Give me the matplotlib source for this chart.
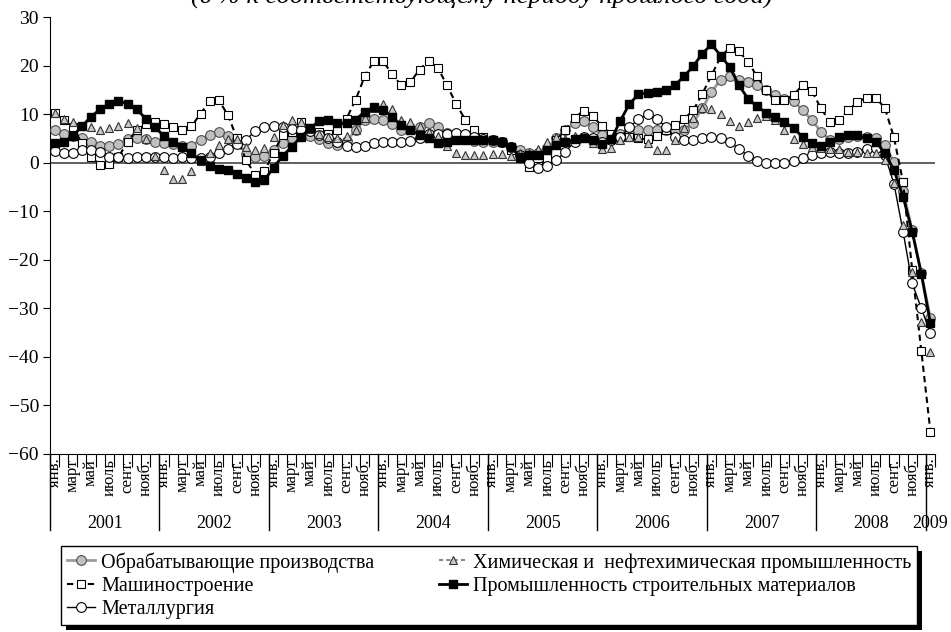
import numpy as np
import matplotlib
matplotlib.use('Agg')
import matplotlib.pyplot as plt
from matplotlib.lines import Line2D
from matplotlib.patches import Rectangle
from matplotlib.transforms import IdentityTransform

plt.rcParams['font.family'] = ['Liberation Serif', 'DejaVu Serif']

years = ['2001', '2002', '2003', '2004', '2005', '2006', '2007', '2008', '2009']
month_names = ['янв.', '', 'март', '', 'май', '', 'июль', '', 'сент.', '', 'нояб.', '']

# monthly values, Jan 2001 .. Jan 2009 (97 points)
obrab = [6.7, 6.0, 5.5, 5.1, 4.3, 3.5, 3.4, 3.8, 4.8, 5.0, 4.9, 4.3,
         4.0, 3.8, 3.4, 3.4, 4.7, 5.8, 6.3, 5.5, 4.7, 1.8, 1.1, 1.4,
         2.6, 4.1, 5.0, 5.6, 5.5, 4.8, 4.0, 3.6, 4.5, 6.7, 8.8, 9.1,
         8.9, 7.9, 6.8, 7.1, 7.4, 8.1, 7.3, 6.2, 5.5, 5.0, 4.5, 4.3,
         4.3, 4.3, 3.3, 2.6, 1.9, 2.0, 3.0, 5.0, 6.8, 8.1, 8.7, 7.3,
         5.7, 5.0, 6.0, 6.7, 6.8, 6.7, 6.7, 6.8, 6.6, 6.8, 8.2, 11.2,
         14.6, 17.1, 17.8, 17.1, 16.6, 16.0, 14.9, 14.0, 13.2, 12.7, 10.8, 8.8,
         6.4, 4.7, 4.8, 5.3, 5.5, 5.3, 5.0, 3.6, 0.2, -5.8, -13.9, -22.8,
         -32.1]
mash = [10.3, 8.9, 7.3, 4.0, 1.2, -0.5, -0.3, 1.2, 4.2, 6.8, 7.9, 8.4,
        7.9, 7.3, 6.8, 7.5, 10.1, 12.7, 12.9, 9.8, 5.0, 0.5, -2.5, -1.8,
        2.1, 5.7, 6.4, 8.4, 7.2, 6.3, 6.0, 6.7, 9.1, 13.0, 17.8, 21.0,
        21.0, 18.2, 16.0, 16.6, 19.2, 21.0, 19.6, 16.0, 12.2, 8.9, 6.7, 5.3,
        4.7, 4.3, 2.6, 0.9, -0.8, -0.7, 0.9, 4.7, 6.8, 9.3, 10.7, 9.6,
        7.5, 5.9, 5.2, 5.3, 5.0, 4.8, 5.5, 6.7, 7.7, 9.0, 10.8, 14.2,
        18.0, 21.8, 23.7, 23.0, 20.8, 17.8, 14.9, 12.9, 12.9, 14.0, 16.0, 14.8,
        11.2, 8.4, 8.8, 10.8, 12.5, 13.4, 13.4, 11.3, 5.2, -4.0, -22.1, -38.8,
        -55.5]
metal = [2.5, 1.9, 1.9, 2.7, 2.7, 2.3, 1.2, 1.1, 0.9, 1.1, 1.1, 1.1,
         1.1, 1.0, 1.1, 0.9, 0.9, 1.1, 1.9, 2.9, 3.9, 4.7, 6.6, 7.3,
         7.5, 7.3, 6.9, 6.7, 6.6, 5.7, 5.0, 4.3, 3.4, 3.2, 3.4, 4.0,
         4.2, 4.2, 4.2, 4.5, 5.0, 6.0, 5.9, 6.0, 6.2, 6.0, 5.3, 4.8,
         4.7, 4.3, 3.2, 1.6, 0.0, -1.0, -0.7, 0.5, 2.3, 4.3, 5.3, 5.0,
         4.3, 4.7, 5.3, 7.3, 9.0, 10.0, 9.0, 7.4, 5.3, 4.7, 4.7, 5.0,
         5.2, 5.0, 4.3, 2.9, 1.4, 0.4, -0.1, -0.1, -0.1, 0.4, 0.9, 1.6,
         2.1, 2.3, 2.1, 2.1, 2.3, 2.9, 3.0, 1.5, -4.3, -14.2, -24.9, -30.0,
         -35.2]
chem = [10.3, 9.1, 8.4, 7.5, 7.3, 6.8, 7.1, 7.5, 8.1, 7.1, 4.9, 1.4,
        -1.6, -3.4, -3.4, -1.8, 0.4, 2.1, 3.6, 4.8, 4.9, 3.3, 2.7, 3.1,
        5.2, 7.7, 8.8, 8.4, 7.0, 6.0, 5.3, 5.1, 5.5, 6.8, 9.3, 11.2,
        12.2, 11.0, 8.9, 8.4, 7.5, 6.4, 5.5, 3.4, 1.9, 1.6, 1.6, 1.6,
        1.7, 1.7, 1.4, 1.9, 2.1, 2.9, 4.3, 5.2, 4.8, 5.5, 5.2, 4.0,
        2.9, 3.1, 4.7, 5.3, 5.2, 4.0, 2.6, 2.6, 4.7, 7.1, 9.3, 11.2,
        11.0, 10.1, 8.6, 7.5, 8.4, 9.3, 9.6, 8.8, 6.7, 4.8, 3.8, 3.3,
        3.1, 2.9, 2.9, 2.3, 2.3, 2.1, 2.1, 0.5, -4.2, -12.8, -22.5, -32.8,
        -39.0]
stroit = [4.0, 4.2, 5.5, 7.5, 9.5, 11.0, 12.2, 12.7, 12.2, 11.0, 9.1, 7.3,
          5.5, 4.3, 3.2, 1.9, 0.5, -0.7, -1.2, -1.6, -2.4, -3.1, -3.9, -3.6,
          -1.0, 1.4, 3.3, 5.3, 7.1, 8.6, 8.8, 8.1, 8.1, 8.9, 10.5, 11.5,
          10.8, 9.5, 7.7, 6.7, 5.8, 5.0, 4.1, 4.3, 4.6, 4.6, 4.6, 4.6,
          4.6, 4.3, 3.3, 1.2, 1.5, 1.5, 2.6, 3.6, 4.3, 4.8, 5.0, 4.6,
          3.8, 4.8, 8.6, 12.1, 14.1, 14.4, 14.5, 14.9, 16.0, 17.8, 19.9, 22.5,
          24.4, 22.1, 19.7, 16.0, 13.2, 11.6, 10.3, 9.5, 8.4, 7.1, 5.3, 4.0,
          3.4, 4.3, 5.3, 5.7, 5.7, 5.0, 4.3, 2.0, -1.5, -7.0, -14.2, -22.9,
          -33.1]

labels = ['Обрабатывающие производства', 'Машиностроение', 'Металлургия',
          'Химическая и  нефтехимическая промышленность',
          'Промышленность строительных материалов']

W, H = 951, 632
fig = plt.figure(figsize=(W / 100, H / 100), dpi=100)
ax_l, ax_r, ax_t, ax_b = 50, 935, 17.2, 453.7
ax = fig.add_axes([ax_l / W, 1 - ax_b / H, (ax_r - ax_l) / W, (ax_b - ax_t) / H])
x = np.arange(len(obrab))

l_obrab, = ax.plot(x, obrab, color='#9a9a9a', lw=2, marker='o', ms=7,
                   mfc='#c0c0c0', mec='#505050', mew=0.8, zorder=3)
l_mash, = ax.plot(x, mash, color='black', lw=1.5, ls=(0, (3, 2)), marker='s', ms=6,
                  mfc='white', mec='black', mew=0.8, zorder=3)
l_metal, = ax.plot(x, metal, color='black', lw=1, marker='o', ms=7,
                   mfc='white', mec='black', mew=0.8, zorder=3)
ax.plot(x, chem, ls='none', marker='^', ms=5.5, mfc='#c8c8c8', mec='#333333',
        mew=0.8, zorder=3)
l_stroit, = ax.plot(x, stroit, color='black', lw=2, marker='s', ms=5.5,
                    mfc='black', mec='black', zorder=3)
l_chem = Line2D([], [], color='#888888', lw=1.5, ls=(0, (2, 1.5)), marker='^', ms=5.5,
                mfc='#c8c8c8', mec='#333333', mew=0.8)

ax.axhline(0, color='#444444', lw=1.2, zorder=2)

ax.set_xlim(-0.5, len(obrab) - 0.5)
ax.set_ylim(-60, 30)
ax.set_yticks(range(-60, 31, 10))
ax.tick_params(axis='y', direction='out', length=5, labelsize=14, pad=3)
ax.set_xticks(np.arange(-0.5, len(obrab), 1))
ax.tick_params(axis='x', direction='out', length=9, labelbottom=False)
for s in ['top', 'right']:
    ax.spines[s].set_visible(False)

tr = ax.get_xaxis_transform()
ax_h = ax_b - ax_t
for i in range(len(obrab)):
    name = month_names[i % 12]
    if name:
        ax.text(i, -5 / ax_h, name, transform=tr, rotation=90, ha='center', va='top',
                fontsize=12)
for k, yr in enumerate(years):
    xs = -0.5 + 12 * k
    ax.plot([xs, xs], [0, -76 / ax_h], transform=tr, clip_on=False, color='black', lw=1)
    xc = 5.5 + 12 * k if k < 8 else 12 * k
    ax.text(xc, -70 / ax_h, yr, transform=tr, ha='center', va='center', fontsize=13)

fig.text(482 / W, 1 - 3 / H, '(в % к соответствующему периоду прошлого года)',
         ha='center', va='baseline', fontsize=19, style='italic')

leg = fig.legend([l_obrab, l_mash, l_metal, l_chem, l_stroit], labels,
                 loc='upper left', bbox_to_anchor=(61 / W, 1 - 546 / H), ncol=2,
                 borderaxespad=0, frameon=True, fancybox=False, edgecolor='black',
                 framealpha=1, fontsize=14.5, handlelength=1.4, handletextpad=0.3,
                 columnspacing=3.2, borderpad=0.3, labelspacing=0.2)
leg.get_frame().set_linewidth(1)

fig.canvas.draw()
bb = leg.get_window_extent()
shadow = Rectangle((bb.x0 + 5, bb.y0 - 5), bb.width, bb.height, transform=IdentityTransform(),
                   facecolor='black', edgecolor='none', zorder=leg.get_zorder() - 0.1)
fig.add_artist(shadow)

fig.savefig('out.png', dpi=100)
